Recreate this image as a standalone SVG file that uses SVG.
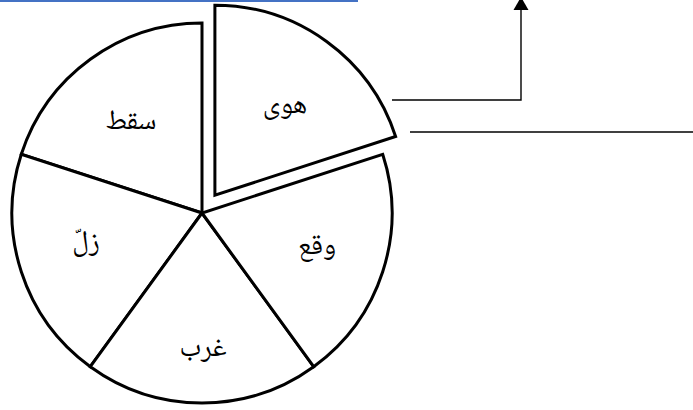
<svg xmlns="http://www.w3.org/2000/svg" width="693" height="410" viewBox="0 0 693 410">
<style>
.slice{fill:#fff;stroke:#000;stroke-width:3;stroke-linejoin:miter}
.lbl{font-family:"Noto Naskh Arabic","Amiri","Scheherazade New","Liberation Serif","DejaVu Sans",serif;font-size:28px;text-anchor:middle;dominant-baseline:middle;fill:#000}
.conn{fill:none;stroke:#000;stroke-width:1.4}
.head{fill:#000;stroke:none}
</style>
<rect width="693" height="410" fill="#fff"/>
<line x1="0" y1="1" x2="358" y2="1" stroke="#4472C4" stroke-width="2"/>
<g id="slice-saqat">
<path class="slice" d="M202,213 L202,23 A190,190 0 0 0 21.3,154.3 Z"/>
<text class="lbl" x="131" y="121">سقط</text>
</g>
<g id="slice-zall">
<path class="slice" d="M202,213 L21.3,154.3 A190,190 0 0 0 90.3,366.7 Z"/>
<text class="lbl" x="86" y="242">زلّ</text>
</g>
<g id="slice-gharaba">
<path class="slice" d="M202,213 L90.3,366.7 A190,190 0 0 0 313.7,366.7 Z"/>
<text class="lbl" x="203" y="348">غرب</text>
</g>
<g id="slice-waqa">
<path class="slice" d="M202,213 L313.7,366.7 A190,190 0 0 0 382.7,154.3 Z"/>
<text class="lbl" x="317" y="246">وقع</text>
</g>
<g id="slice-hawa">
<path class="slice" d="M214.9,195.2 L214.9,5.2 A190,190 0 0 1 395.6,136.5 Z"/>
<text class="lbl" x="285" y="105">هوى</text>
</g>
<g id="connectors">
<polyline class="conn" points="392,100 521,100 521,9"/>
<polygon class="head" points="513.5,10 528.5,10 521,-3"/>
<line class="conn" x1="410" y1="132" x2="693" y2="132"/>
</g>
</svg>
